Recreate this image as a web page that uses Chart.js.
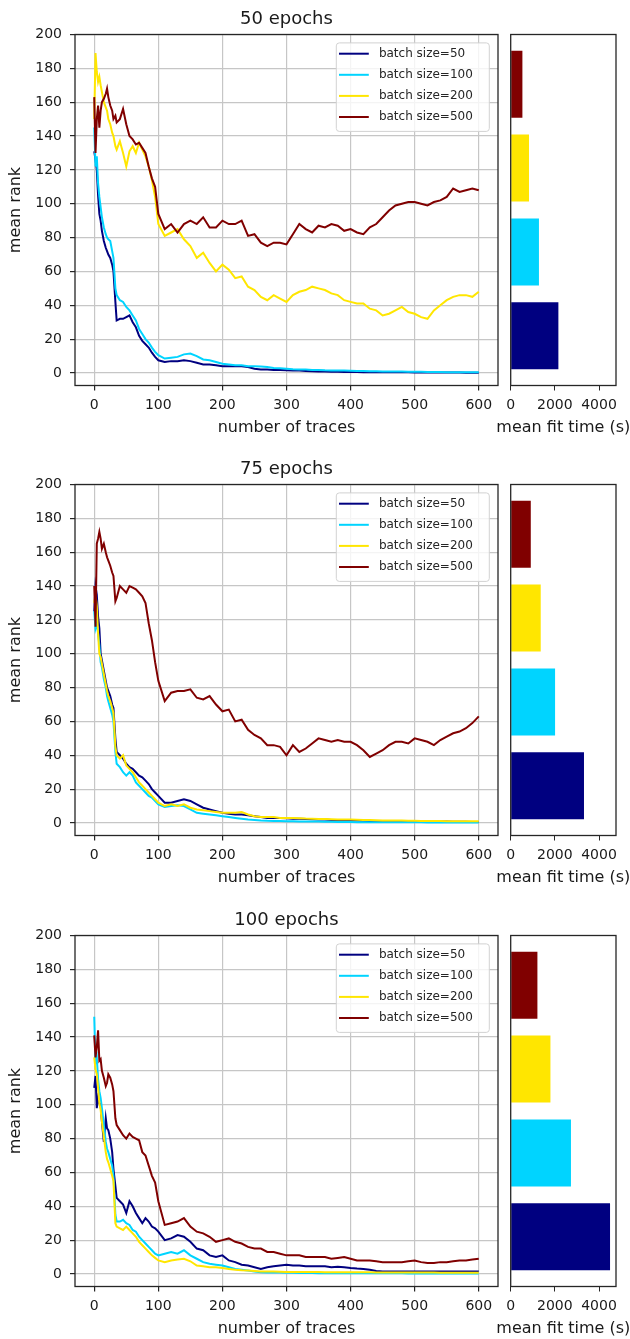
<!DOCTYPE html>
<html>
<head>
<meta charset="utf-8">
<title>mean rank vs number of traces</title>
<script src="https://cdn.jsdelivr.net/npm/chart.js@4.4.0/dist/chart.umd.min.js"></script>
<style>
  html, body { margin: 0; padding: 0; background: #fff; }
  #page { position: relative; width: 630px; height: 1339px; overflow: hidden; }
  canvas { position: absolute; }
</style>
</head>
<body>
<div id="page">
  <canvas id="rank50" width="500" height="442" style="left:0px;top:0px"></canvas>
  <canvas id="time50" width="140" height="442" style="left:490px;top:0px"></canvas>
  <canvas id="rank75" width="500" height="442" style="left:0px;top:450px"></canvas>
  <canvas id="time75" width="140" height="442" style="left:490px;top:450px"></canvas>
  <canvas id="rank100" width="500" height="442" style="left:0px;top:901px"></canvas>
  <canvas id="time100" width="140" height="442" style="left:490px;top:901px"></canvas>
</div>
<script>
// number of traces (x positions of the sampled points)
const traces = [0, 2, 4, 6, 8, 10, 12, 15, 18, 20, 22, 25, 28, 30, 33, 35, 40, 45, 50, 55, 60, 65, 70, 75, 80, 85, 90, 95, 100,
  110, 120, 130, 140, 150, 160, 170, 180, 190, 200,
  210, 220, 230, 240, 250, 260, 270, 280, 290, 300,
  310, 320, 330, 340, 350, 360, 370, 380, 390, 400,
  410, 420, 430, 440, 450, 460, 470, 480, 490, 500,
  510, 520, 530, 540, 550, 560, 570, 580, 590, 600];

const batchLabels = ['batch size=50', 'batch size=100', 'batch size=200', 'batch size=500'];
const batchColors = ['#000080', '#00d4ff', '#ffe600', '#800000'];
const panelTitles = ['50 epochs', '75 epochs', '100 epochs'];

const xTicks = [0, 100, 200, 300, 400, 500, 600];
const yTicks = [0, 20, 40, 60, 80, 100, 120, 140, 160, 180, 200];
const timeTicks = [0, 2000, 4000];
const xTitle = 'number of traces';
const yTitle = 'mean rank';
const timeTitle = 'mean fit time (s)';

// 50 epochs
const rank50_bs50 = [131, 126, 120, 105, 94, 90, 84, 78, 74, 72, 70, 68, 64, 60, 42, 31, 32, 32, 33, 34, 30, 27, 22, 19, 17, 15, 12, 9.5, 7.5,
  6.5, 7, 7, 7.5, 7, 6, 5, 5, 4.5, 4,
  4, 4, 4, 3.5, 2.5, 2, 2, 1.8, 1.8, 1.6,
  1.5, 1.4, 1.2, 1.0, 0.8, 0.8, 0.7, 0.7, 0.6, 0.6,
  0.6, 0.5, 0.5, 0.5, 0.5, 0.4, 0.4, 0.4, 0.4, 0.3,
  0.3, 0.3, 0.3, 0.3, 0.3, 0.3, 0.3, 0.2, 0.2, 0.2];
const rank50_bs100 = [145, 122, 128, 112, 104, 98, 92, 86, 82, 80, 79, 78, 72, 68, 50, 46, 43, 42, 39, 37, 34, 31, 26, 23, 20, 18, 15, 12.5, 10.5,
  8.5, 9, 9.5, 11, 11.5, 10, 8, 7.5, 6.5, 5.5,
  5, 4.5, 4.5, 4, 4, 3.8, 3.5, 3, 2.8, 2.5,
  2.2, 2, 2, 1.8, 1.8, 1.6, 1.5, 1.5, 1.4, 1.3,
  1.2, 1.1, 1, 1, 0.9, 0.9, 0.8, 0.8, 0.7, 0.7,
  0.7, 0.6, 0.6, 0.6, 0.5, 0.5, 0.5, 0.5, 0.5, 0.5];
const rank50_bs200 = [150, 189, 178, 172, 175, 170, 166, 160, 157, 155, 150, 147, 142, 140, 134, 132, 137, 130, 122, 131, 134, 130, 136, 132, 128, 122, 114, 104, 88,
  81, 83, 85, 79, 75, 68, 71, 65, 60, 64,
  61, 56, 57, 51, 49, 45, 43, 46, 44, 42,
  46, 48, 49, 51, 50, 49, 47, 46, 43, 42,
  41, 41, 38, 37, 34, 35, 37, 39, 36, 35,
  33, 32, 37, 40, 43, 45, 46, 46, 45, 48];
const rank50_bs500 = [163, 130, 150, 158, 145, 155, 160, 162, 165, 168, 163, 158, 155, 150, 152, 148, 150, 156, 147, 140, 138, 135, 136, 133, 130, 122, 115, 110, 94,
  85, 88, 83, 88, 90, 88, 92, 86, 86, 90,
  88, 88, 90, 81, 82, 77, 75, 77, 77, 76,
  82, 88, 85, 83, 87, 86, 88, 87, 84, 85,
  83, 82, 86, 88, 92, 96, 99, 100, 101, 101,
  100, 99, 101, 102, 104, 109, 107, 108, 109, 108];

// 75 epochs
const rank75_bs50 = [125, 140, 135, 122, 115, 100, 96, 90, 84, 80, 78, 75, 70, 68, 50, 42, 40, 38, 35, 33, 32, 30, 28, 27, 25, 23, 20, 18, 16,
  12, 12, 13, 14, 13, 11, 9, 8, 7, 6,
  5.5, 5, 5, 4.5, 4, 3.5, 3, 3, 3, 2.8,
  2.5, 2.5, 2.3, 2.2, 2, 2, 1.8, 1.8, 1.6, 1.5,
  1.4, 1.3, 1.2, 1.2, 1.1, 1, 1, 1, 1, 1,
  0.9, 0.9, 0.8, 0.8, 0.8, 0.7, 0.7, 0.7, 0.6, 0.6];
const rank75_bs100 = [125, 115, 118, 112, 105, 95, 92, 85, 80, 75, 72, 68, 64, 60, 42, 35, 33, 30, 28, 30, 28, 24, 22, 20, 18, 16, 15, 13, 11,
  9.5, 10, 10.5, 10, 8, 6, 5.5, 5, 4.5, 4,
  3.5, 3, 2.5, 2, 1.8, 1.5, 1.3, 1.2, 1.1, 1,
  1, 0.9, 0.9, 0.8, 0.8, 0.7, 0.7, 0.6, 0.6, 0.6,
  0.5, 0.5, 0.5, 0.5, 0.5, 0.4, 0.4, 0.4, 0.4, 0.4,
  0.4, 0.3, 0.3, 0.3, 0.3, 0.3, 0.3, 0.3, 0.3, 0.3];
const rank75_bs200 = [130, 135, 128, 112, 100, 98, 94, 88, 82, 78, 75, 72, 68, 65, 45, 40, 38, 40, 34, 32, 30, 27, 24, 22, 20, 18, 16, 14, 12,
  10, 11, 10, 11, 9, 8, 7.5, 7, 6.5, 6,
  6, 6, 6.5, 5, 4, 3.5, 3.5, 3.5, 3, 3,
  3, 2.8, 2.6, 2.5, 2.4, 2.3, 2.2, 2.1, 2, 2,
  1.9, 1.8, 1.7, 1.6, 1.5, 1.5, 1.4, 1.4, 1.3, 1.3,
  1.2, 1.2, 1.1, 1.1, 1, 1, 1, 1, 1, 1];
const rank75_bs500 = [140, 116, 165, 168, 172, 168, 162, 165, 160, 157, 155, 152, 148, 146, 131, 133, 140, 138, 136, 140, 139, 138, 136, 134, 130, 118, 108, 95, 84,
  72, 77, 78, 78, 79, 74, 73, 75, 70, 66,
  67, 60, 61, 55, 52, 50, 46, 46, 45, 40,
  46, 42, 44, 47, 50, 49, 48, 49, 48, 48,
  46, 43, 39, 41, 43, 46, 48, 48, 47, 50,
  49, 48, 46, 49, 51, 53, 54, 56, 59, 63];

// 100 epochs
const rank100_bs50 = [110, 117, 98, 104, 101, 100, 90, 78, 92, 86, 85, 80, 72, 62, 52, 45, 43, 41, 36, 43, 40, 36, 33, 30, 33, 31, 28, 27, 25,
  20, 21, 23, 22, 19, 15, 14, 11, 10, 11,
  8, 7, 5.5, 5, 4, 3, 4, 4.5, 5, 5.5,
  5, 5, 4.5, 4.5, 4.5, 4.5, 4, 4.2, 4, 3.5,
  3.2, 3, 2.5, 1.8, 1.5, 1.5, 1.4, 1.4, 1.4, 1.4,
  1.4, 1.4, 1.4, 1.4, 1.4, 1.4, 1.4, 1.4, 1.4, 1.4];
const rank100_bs100 = [152, 125, 128, 115, 108, 104, 98, 88, 78, 74, 72, 68, 64, 58, 35, 31, 31, 32, 30, 29, 26, 25, 22, 20, 18, 16, 14, 12, 11,
  12, 13, 12, 14, 11, 9, 7, 6, 5.5, 5,
  4, 3, 2.5, 2, 1.5, 1, 0.8, 0.8, 0.8, 0.7,
  0.7, 0.6, 0.6, 0.6, 0.5, 0.5, 0.5, 0.5, 0.5, 0.5,
  0.5, 0.4, 0.4, 0.4, 0.4, 0.4, 0.4, 0.4, 0.3, 0.3,
  0.3, 0.3, 0.3, 0.3, 0.3, 0.3, 0.3, 0.3, 0.3, 0.3];
const rank100_bs200 = [128, 121, 118, 110, 101, 97, 90, 81, 72, 68, 66, 62, 58, 55, 30, 28, 27, 26, 28, 26, 24, 22, 19, 17, 15, 13, 11, 9.5, 8,
  7, 8, 8.5, 9, 7.5, 5, 4.5, 4, 4, 3.5,
  3, 2.5, 2.2, 2, 1.8, 1.5, 1.4, 1.4, 1.3, 1.2,
  1.2, 1.2, 1.1, 1.1, 1.1, 1, 1, 1, 1, 1,
  1, 1, 1, 0.9, 0.9, 0.9, 0.8, 0.8, 0.8, 0.8,
  0.8, 0.8, 0.8, 0.7, 0.7, 0.7, 0.7, 0.7, 0.7, 0.7];
const rank100_bs500 = [141, 128, 134, 144, 126, 127, 120, 116, 111, 113, 118, 116, 112, 108, 92, 88, 85, 82, 80, 83, 81, 80, 79, 72, 70, 64, 58, 54, 43,
  29, 30, 31, 33, 28, 25, 24, 22, 19, 20,
  21, 19, 18, 16, 15, 15, 13, 13, 12, 11,
  11, 11, 10, 10, 10, 10, 9, 9.5, 10, 9,
  8, 8, 8, 7.5, 7, 7, 7, 7, 7.5, 8,
  7, 6.5, 6.5, 7, 7, 7.5, 8, 8, 8.5, 9];

// mean fit time (s), order: batch 50, 100, 200, 500
const fitTime50 = [2160, 1280, 830, 530];
const fitTime75 = [3320, 2010, 1360, 910];
const fitTime100 = [4500, 2730, 1800, 1210];

const FONT = 'DejaVu Sans';
const INK = '#1a1a1a';
const GRID = '#c6c6c6';
Chart.defaults.font.family = FONT;
Chart.defaults.color = INK;

// matplotlib-like box around the plot area
const framePlugin = {
  id: 'frame',
  afterDatasetsDraw(chart) {
    const { ctx, chartArea: a } = chart;
    ctx.save();
    ctx.strokeStyle = '#262626';
    ctx.lineWidth = 1.3;
    ctx.strokeRect(a.left, a.top, a.right - a.left, a.bottom - a.top);
    ctx.restore();
  }
};

// legend box in the upper right of the plot
const boxLegend = {
  id: 'boxLegend',
  afterDraw(chart) {
    const { ctx, chartArea: a } = chart;
    const w = 153, h = 88.5;
    const x0 = a.right - 8.7 - w, y0 = a.top + 8.4;
    ctx.save();
    ctx.beginPath();
    ctx.roundRect(x0, y0, w, h, 3);
    ctx.fillStyle = 'rgba(255,255,255,0.8)';
    ctx.fill();
    ctx.strokeStyle = '#d2d2d2';
    ctx.lineWidth = 1;
    ctx.stroke();
    ctx.font = '12px "' + FONT + '"';
    ctx.textBaseline = 'middle';
    chart.data.datasets.forEach((ds, i) => {
      const y = y0 + 10.8 + i * 21.1;
      ctx.strokeStyle = ds.borderColor;
      ctx.lineWidth = 2;
      ctx.beginPath();
      ctx.moveTo(x0 + 2.7, y);
      ctx.lineTo(x0 + 32.5, y);
      ctx.stroke();
      ctx.fillStyle = '#262626';
      ctx.fillText(ds.label, x0 + 42.6, y);
    });
    ctx.restore();
  }
};

// axis title under the narrow bar plot (wider than the plot itself)
const barAxisTitle = {
  id: 'barAxisTitle',
  afterDraw(chart) {
    const { ctx, chartArea: a } = chart;
    ctx.save();
    ctx.font = '16px "' + FONT + '"';
    ctx.fillStyle = INK;
    ctx.textAlign = 'center';
    ctx.textBaseline = 'middle';
    ctx.fillText(timeTitle, (a.left + a.right) / 2, a.bottom + 42.5);
    ctx.restore();
  }
};

const setTicks = list => scale => { scale.ticks = list.map(v => ({ value: v })); };

function drawRank(id, title, series) {
  new Chart(document.getElementById(id), {
    type: 'line',
    data: {
      datasets: series.map((ys, i) => ({
        label: batchLabels[i],
        data: ys.map((v, j) => ({ x: traces[j], y: v })),
        borderColor: batchColors[i],
        borderWidth: 2,
        pointRadius: 0,
        fill: false,
        order: series.length - 1 - i
      }))
    },
    options: {
      responsive: false,
      animation: false,
      events: [],
      layout: { padding: { left: 0, right: 2, top: 0, bottom: 0 } },
      plugins: {
        legend: { display: false },
        tooltip: { enabled: false },
        title: {
          display: true,
          text: title,
          fullSize: false,
          color: INK,
          font: { family: FONT, size: 18, weight: 'normal' },
          padding: { top: 9, bottom: 3.9 }
        }
      },
      scales: {
        x: {
          type: 'linear',
          min: -30,
          max: 630,
          afterBuildTicks: setTicks(xTicks),
          afterFit: s => { s.height = 56.5; },
          border: { display: false },
          grid: { color: GRID, lineWidth: 1.2, tickLength: 5, tickColor: '#262626' },
          ticks: { font: { size: 14 }, color: INK, padding: 6, autoSkip: false, maxRotation: 0, callback: v => String(v) },
          title: { display: true, text: xTitle, color: INK, font: { size: 16 }, padding: { top: 0, bottom: 4.4 } }
        },
        y: {
          type: 'linear',
          min: -7.4,
          max: 200,
          afterBuildTicks: setTicks(yTicks),
          afterFit: s => { s.width = 75; },
          border: { display: false },
          grid: { color: GRID, lineWidth: 1.2, tickLength: 5, tickColor: '#262626' },
          ticks: { font: { size: 14 }, color: INK, padding: 8, autoSkip: false, callback: v => String(v) },
          title: { display: true, text: yTitle, color: INK, font: { size: 16 }, padding: { top: 5.9, bottom: 0 } }
        }
      }
    },
    plugins: [framePlugin, boxLegend]
  });
}

function drawTime(id, times) {
  new Chart(document.getElementById(id), {
    type: 'bar',
    data: {
      datasets: [{
        data: times.map((v, i) => ({ x: v, y: i })),
        backgroundColor: batchColors,
        barPercentage: 0.8,
        categoryPercentage: 1
      }]
    },
    options: {
      indexAxis: 'y',
      responsive: false,
      animation: false,
      events: [],
      layout: { padding: { left: 20.7, right: 14, top: 34.5, bottom: 0 } },
      plugins: { legend: { display: false }, tooltip: { enabled: false } },
      scales: {
        x: {
          type: 'linear',
          min: 0,
          max: 4770,
          afterBuildTicks: setTicks(timeTicks),
          afterFit: s => { s.height = 56.5; },
          border: { display: false },
          grid: { drawOnChartArea: false, tickLength: 5, tickColor: '#262626' },
          ticks: { font: { size: 14 }, color: INK, padding: 6, autoSkip: false, maxRotation: 0, callback: v => String(v) }
        },
        y: {
          type: 'linear',
          min: -0.595,
          max: 3.595,
          offset: false,
          grid: { offset: false },
          display: false,
          afterBuildTicks: setTicks([0, 1, 2, 3])
        }
      }
    },
    plugins: [framePlugin, barAxisTitle]
  });
}

drawRank('rank50', panelTitles[0], [rank50_bs50, rank50_bs100, rank50_bs200, rank50_bs500]);
drawTime('time50', fitTime50);
drawRank('rank75', panelTitles[1], [rank75_bs50, rank75_bs100, rank75_bs200, rank75_bs500]);
drawTime('time75', fitTime75);
drawRank('rank100', panelTitles[2], [rank100_bs50, rank100_bs100, rank100_bs200, rank100_bs500]);
drawTime('time100', fitTime100);
</script>
</body>
</html>
